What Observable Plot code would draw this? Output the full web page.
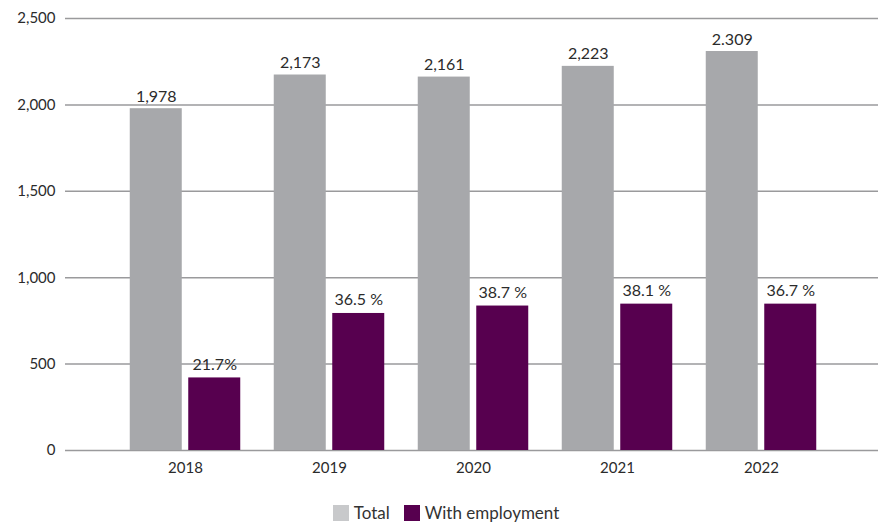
<!DOCTYPE html>
<html><head><meta charset="utf-8">
<script src="https://cdn.jsdelivr.net/npm/d3@7"></script>
<script src="https://cdn.jsdelivr.net/npm/@observablehq/plot@0.6"></script>
<style>
body{margin:0;background:#fff;font-family:Lato,"Open Sans",sans-serif;color:#2b2b2b;}
#chart svg{display:block;}
#legend{display:flex;justify-content:center;align-items:center;height:37px;padding-top:8px;box-sizing:border-box;padding-left:14px;font-size:17px;color:#333;}
.sw{display:inline-block;width:16px;height:16px;margin-right:5px;}
.item{display:flex;align-items:center;margin:0 7px;}
</style></head><body>
<div id="chart"></div>
<div id="legend"></div>
<script>
const years = ["2018","2019","2020","2021","2022"];
const totals = [1978,2173,2161,2223,2309];
const employed = [420,793,836,847,847];
const totalLabels = ["1,978","2,173","2,161","2,223","2.309"];
const employedLabels = ["21.7%","36.5 %","38.7 %","38.1 %","36.7 %"];
const yTicks = [0,500,1000,1500,2000,2500];
const seriesNames = ["Total","With employment"];
const barColors = ["#a7a8ab","#57004f"];
const legendColors = ["#c8c9cb","#57004f"];

const totalData = years.map((y,i)=>({year:y, value:totals[i], label:totalLabels[i]}));
const empData = years.map((y,i)=>({year:y, value:employed[i], label:employedLabels[i]}));

const off = 29.25;
const chart = Plot.plot({
  width: 878,
  height: 490,
  marginLeft: 65,
  marginRight: 0,
  marginTop: 18,
  marginBottom: 40,
  style: {fontFamily: "Lato, 'Open Sans', sans-serif", fontSize: "14px", color: "#2b2b2b", background: "#fff"},
  x: {domain: years, paddingInner: 0.64, paddingOuter: 0.633, align: 0.51, label: null},
  y: {domain: [0, 2500], label: null},
  marks: [
    Plot.ruleY(yTicks, {stroke: "#9a9a9c", strokeWidth: 1.5}),
    Plot.barY(totalData, {x: "year", y: "value", fill: barColors[0], dx: -off}),
    Plot.barY(empData, {x: "year", y: "value", fill: barColors[1], dx: off}),
    Plot.text(totalData, {x: "year", y: "value", text: "label", dx: -off, dy: -7, lineAnchor: "bottom", fontSize: 16, fill: "#2b2b2b"}),
    Plot.text(empData, {x: "year", y: "value", text: "label", dx: off, dy: -8, lineAnchor: "bottom", fontSize: 16, fill: "#2b2b2b"}),
    Plot.axisY({ticks: yTicks, tickFormat: d3.format(","), tickSize: 0, tickPadding: 10, fontSize: 15, fill: "#2b2b2b", label: null}),
    Plot.axisX({tickSize: 0, tickPadding: 12, fontSize: 15, fill: "#2b2b2b", label: null, style: {fontVariantNumeric: "oldstyle-nums"}})
  ]
});
document.getElementById("chart").append(chart);

const leg = document.getElementById("legend");
seriesNames.forEach((n,i)=>{
  const it = document.createElement("span");
  it.className = "item";
  it.innerHTML = `<span class="sw" style="background:${legendColors[i]}"></span><span>${n}</span>`;
  leg.append(it);
});
</script>
</body></html>
